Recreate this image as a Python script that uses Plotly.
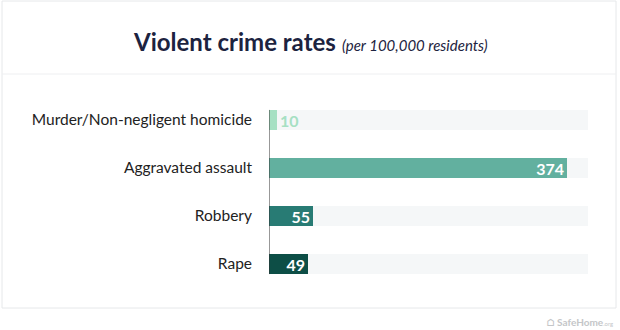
import plotly.graph_objects as go

categories = ["Murder/Non-negligent homicide", "Aggravated assault", "Robbery", "Rape"]
values = [10, 374, 55, 49]
bar_colors = ["#a6e0c3", "#62b09f", "#287b74", "#0d4e46"]
label_positions = ["outside", "inside", "inside", "inside"]
label_colors = ["#a6e0c3", "#ffffff", "#ffffff", "#ffffff"]
axis_max = 400
track = [axis_max] * len(categories)

W, H = 620, 330
x0, x1 = 269, 588
y0, y1 = 96, 288

fig = go.Figure()
fig.add_trace(go.Bar(
    y=categories, x=track, orientation="h", marker=dict(color="#f5f7f8", line=dict(width=0)),
    width=0.42, hoverinfo="skip", showlegend=False))
fig.add_trace(go.Bar(
    y=categories, x=values, orientation="h",
    marker=dict(color=bar_colors, line=dict(width=0)),
    width=0.42, text=[str(v) for v in values], textposition=label_positions,
    insidetextanchor="end", cliponaxis=False, textangle=0, constraintext="none",
    textfont=dict(family="Lato", size=16, color=label_colors, weight="bold"),
    showlegend=False))

fig.update_layout(
    width=W, height=H, margin=dict(l=0, r=0, t=0, b=0),
    paper_bgcolor="white", plot_bgcolor="rgba(0,0,0,0)",
    barmode="overlay", bargap=0,
    font=dict(family="Lato", color="#222222"),
    xaxis=dict(domain=[x0 / W, x1 / W], range=[0, axis_max], visible=False, fixedrange=True),
    yaxis=dict(domain=[1 - y1 / H, 1 - y0 / H], autorange="reversed", showgrid=False,
               showline=False, zeroline=False, ticks="", ticklabelstandoff=16,
               tickfont=dict(family="Lato", size=15.5, color="#222222")),
    shapes=[
        dict(type="rect", xref="paper", yref="paper", x0=2 / W, x1=616 / W, y0=1 - 308 / H, y1=1 - 1 / H,
             line=dict(color="#e6e8ea", width=1), fillcolor="rgba(0,0,0,0)", layer="below"),
        dict(type="line", xref="paper", yref="paper", x0=2 / W, x1=616 / W, y0=1 - 74 / H, y1=1 - 74 / H,
             line=dict(color="#eeeff1", width=1)),
        dict(type="line", xref="x", yref="y", x0=0, x1=0, y0=-0.21, y1=3.21,
             line=dict(color="#333333", width=1)),
    ],
    annotations=[
        dict(xref="paper", yref="paper", x=310 / W, y=1 - 42 / H, showarrow=False,
             xanchor="center", yanchor="middle",
             text="<b>Violent crime rates</b> <i><span style='font-size:15px'>(per 100,000 residents)</span></i>",
             font=dict(family="Lato", size=24, color="#1c2340")),
        dict(xref="paper", yref="paper", x=615 / W, y=1 - 322 / H, showarrow=False,
             xanchor="right", yanchor="middle",
             text="<b>⌂ SafeHome</b><span style='font-size:6px'>.org</span>",
             font=dict(family="Lato", size=10, color="#c4c6c8")),
    ],
)

fig.write_html("out.html")
